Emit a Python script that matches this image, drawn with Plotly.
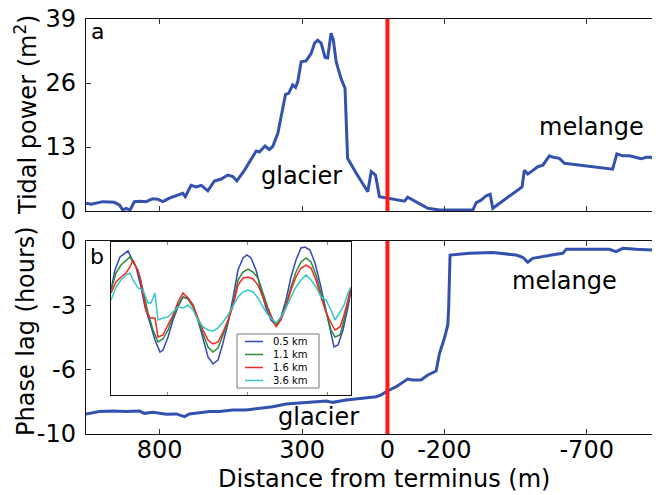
import plotly.graph_objects as go

# ---------------- data ----------------
# Panel a: tidal power along the profile (distance from terminus, m)
power_x = [1059, 1041, 1000, 959, 941, 930, 918, 904, 889, 871,
           848, 824, 807, 789, 766, 742, 719, 710, 690, 672,
           654, 631, 608, 584, 561, 543, 529, 502, 479, 461,
           450, 430, 415, 403, 385, 373, 358, 347, 333, 323,
           315, 303, 286, 268, 256, 245, 233, 219, 210, 198,
           190, 180, 163, 149, 140, 110, 69, 57, 42, 28,
           17, -42, -60, -71, -89, -142, -183, -300, -312, -329,
           -347, -361, -370, -473, -481, -493, -510, -528, -546, -569,
           -583, -604, -622, -791, -806, -827, -850, -868, -891, -909,
           -926, -944]
power_y = [1.56, 1.36, 1.9, 1.76, 1.2, 0.2, 0.55, 0.2, 1.9, 2.0,
           1.9, 2.5, 2.4, 1.9, 2.6, 3.1, 3.6, 2.9, 5.2, 4.9,
           5.2, 4.1, 6.1, 6.5, 7.3, 7.0, 6.1, 8.3, 10.4, 12.2,
           12.0, 13.2, 12.5, 13.1, 15.8, 19.2, 23.7, 23.9, 25.6, 25.1,
           26.3, 30.3, 30.5, 32.0, 34.1, 34.7, 34.1, 31.2, 31.1, 36.1,
           34.7, 30.3, 26.9, 24.9, 10.7, 7.7, 3.9, 8.0, 7.3, 2.9,
           2.8, 2.2, 2.0, 2.8, 2.2, 0.55, 0.2, 0.2, 1.7, 2.2,
           3.1, 3.4, 0.55, 4.9, 8.3, 7.5, 8.2, 9.0, 9.3, 11.2,
           10.9, 10.7, 9.7, 8.5, 11.6, 11.2, 11.2, 10.9, 10.6, 10.9,
           10.9, 10.5]

# Panel b: phase lag (hours)
lag_x = [1059, 1012, 965, 918, 871, 854, 824, 777, 742, 713,
         696, 660, 625, 590, 543, 496, 450, 403, 356, 309,
         262, 215, 192, 145, 98, 63, 40, 22, 5, -31,
         -71, -89, -118, -142, -159, -171, -183, -200, -212, -215,
         -220, -288, -370, -452, -475, -493, -510, -540, -569, -593,
         -616, -628, -698, -780, -803, -827, -874, -944]
lag_y = [-8.96, -8.84, -8.81, -8.84, -8.81, -8.93, -8.88, -8.98, -8.96, -9.10,
         -8.96, -8.90, -8.84, -8.84, -8.76, -8.76, -8.67, -8.59, -8.45, -8.38,
         -8.34, -8.29, -8.36, -8.24, -8.15, -8.12, -8.07, -7.98, -7.81, -7.55,
         -7.15, -7.20, -7.20, -6.94, -6.82, -6.74, -5.82, -5.04, -4.35, -3.49,
         -0.73, -0.64, -0.59, -0.73, -0.84, -1.10, -0.90, -0.81, -0.73, -0.69,
         -0.64, -0.43, -0.43, -0.43, -0.55, -0.38, -0.43, -0.47]

# Inset: tidal signals at four distances (arbitrary time / level units)
t_05 = [0, 4, 9, 14, 17, 20, 25, 30, 34, 39, 44, 49, 52, 57, 62, 67, 72, 77, 82, 87,
        92, 97, 102, 107, 112, 117, 122, 127, 132, 136, 140, 145, 150, 155, 160, 165,
        170, 175, 180, 185, 190, 194, 199, 204, 209, 214, 219, 223, 227, 232, 237, 240]
h_05 = [105, 125, 138, 142, 144, 138, 128, 108, 88, 72, 55, 43, 45, 58, 75, 88, 98, 97, 90, 75,
        55, 38, 31, 35, 52, 72, 97, 125, 137, 140, 137, 125, 105, 87, 75, 70,
        78, 95, 118, 135, 147, 148, 145, 132, 112, 88, 65, 48, 50, 65, 88, 105]
t_11 = [0, 5, 10, 15, 19, 22, 27, 32, 37, 42, 47, 52, 57, 62, 67, 72, 77, 82, 87, 92,
        97, 102, 107, 112, 117, 122, 127, 132, 137, 142, 147, 152, 157, 162, 165, 170,
        175, 180, 185, 190, 195, 200, 205, 210, 215, 220, 224, 229, 233, 237, 240]
h_11 = [105, 122, 130, 135, 138, 133, 125, 105, 82, 65, 53, 56, 65, 78, 90, 98, 96, 88, 75, 60,
        48, 43, 47, 60, 73, 91, 115, 123, 126, 123, 117, 102, 87, 75, 70, 77,
        90, 108, 123, 133, 137, 133, 120, 102, 82, 65, 58, 60, 75, 92, 107]
t_16 = [0, 5, 10, 15, 19, 22, 25, 29, 32, 35, 39, 44, 47, 52, 57, 62, 67, 72, 77, 82,
        87, 92, 97, 102, 107, 112, 117, 122, 127, 132, 137, 142, 147, 152, 157, 162,
        165, 170, 175, 180, 185, 190, 195, 200, 205, 210, 215, 220, 224, 229, 233, 237, 240]
h_16 = [102, 113, 118, 122, 128, 135, 128, 118, 102, 85, 77, 77, 58, 60, 70, 80, 93, 102, 97, 90,
        77, 65, 55, 51, 53, 63, 75, 89, 110, 117, 118, 116, 110, 98, 85, 75,
        68, 75, 88, 105, 118, 127, 130, 127, 115, 98, 83, 72, 65, 68, 80, 95, 108]
t_36 = [0, 5, 10, 15, 19, 22, 27, 32, 37, 40, 44, 47, 52, 57, 62, 67, 72, 77, 82, 87,
        92, 97, 102, 107, 112, 117, 122, 127, 132, 137, 142, 147, 152, 157, 162, 165,
        170, 175, 180, 185, 190, 195, 200, 205, 210, 215, 220, 224, 229, 233, 237, 240]
h_36 = [95, 108, 115, 120, 122, 115, 107, 105, 92, 92, 102, 75, 77, 78, 83, 88, 87, 90, 85, 75,
        68, 65, 64, 67, 73, 80, 89, 98, 103, 105, 103, 97, 88, 80, 75, 72,
        78, 87, 98, 108, 115, 120, 115, 108, 98, 95, 85, 75, 83, 90, 102, 108]

inset_names = ["0.5 km", "1.1 km", "1.6 km", "3.6 km"]
inset_t = [t_05, t_11, t_16, t_36]
inset_h = [h_05, h_11, h_16, h_36]

x_tickvals = [800, 300, 0, -200, -700]
power_ticks = [0, 13, 26, 39]
lag_tickvals = [0, -10 / 3, -20 / 3, -10]
lag_ticktext = ["0", "-3", "-6", "-10"]

# ---------------- styling ----------------
FONT = "DejaVu Sans"
FS = 24
MAIN_BLUE = "#3352ae"
inset_colors = ["#3448b4", "#2c8a3c", "#f02a22", "#36c6c6"]

# the page body has an 8px margin, so the figure is drawn 8px right/down
OFF = 8
W, H = 660 - OFF, 495 - OFF
# plot-area edges, in page pixels
P_LEFT, P_RIGHT, P_TOP, P_BOT = 86, 657, 19, 434
L, R, T, B = P_LEFT - OFF, W - (P_RIGHT - OFF), P_TOP - OFF, H - (P_BOT - OFF)
pw, ph = W - L - R, H - T - B


def ydom(top_px, bot_px):
    return [(P_BOT - bot_px) / ph, (P_BOT - top_px) / ph]


def xdom(l_px, r_px):
    return [(l_px - P_LEFT) / pw, (r_px - P_LEFT) / pw]


def px_to_paper(xp, yp):
    return (xp - P_LEFT) / pw, (P_BOT - yp) / ph


fig = go.Figure()

fig.add_trace(go.Scatter(x=power_x, y=power_y, xaxis="x2", yaxis="y2", mode="lines",
                         line=dict(color=MAIN_BLUE, width=3), name="tidal power"))
fig.add_trace(go.Scatter(x=lag_x, y=lag_y, xaxis="x", yaxis="y", mode="lines",
                         line=dict(color=MAIN_BLUE, width=3), name="phase lag"))
for name, tt, hh, col in zip(inset_names, inset_t, inset_h, inset_colors):
    fig.add_trace(go.Scatter(x=tt, y=hh, xaxis="x3", yaxis="y3", mode="lines",
                             line=dict(color=col, width=1.5), name=name))

axis_common = dict(showline=True, linecolor="#111", linewidth=1.3, mirror="ticks",
                   ticks="inside", ticklen=5, tickwidth=1, tickcolor="#333",
                   showgrid=False, zeroline=False, automargin=False,
                   ticklabeloverflow="allow",
                   tickfont=dict(family=FONT, size=FS, color="black"))

fig.update_layout(
    width=W, height=H,
    margin=dict(l=L, r=R, t=T, b=B, pad=0, autoexpand=False),
    paper_bgcolor="white", plot_bgcolor="white",
    showlegend=False,
    font=dict(family=FONT, size=FS, color="black"),
    xaxis=dict(axis_common, domain=[0, 1], anchor="y", range=[1059, -947],
               tickvals=x_tickvals, ticktext=[str(v) for v in x_tickvals],
               ticklabelstandoff=-6),
    xaxis2=dict(axis_common, domain=[0, 1], anchor="y2", matches="x",
                tickvals=x_tickvals, showticklabels=False),
    yaxis=dict(axis_common, domain=ydom(241, 434), anchor="x", range=[-10, 0],
               tickvals=lag_tickvals, ticktext=lag_ticktext, ticklabelstandoff=4),
    yaxis2=dict(axis_common, domain=ydom(19, 211), anchor="x2", range=[0, 39],
                tickvals=power_ticks, ticktext=[str(v) for v in power_ticks],
                ticklabelstandoff=4),
    xaxis3=dict(domain=xdom(111, 351), anchor="y3", range=[0, 240], showline=True,
                linecolor="#111", linewidth=1.2, mirror="ticks", ticks="inside", ticklen=3,
                tickcolor="#888", tickvals=[56, 136, 216], showticklabels=False,
                showgrid=False, zeroline=False, automargin=False),
    yaxis3=dict(domain=ydom(242, 395), anchor="x3", range=[0, 153], showline=True,
                linecolor="#111", linewidth=1.2, mirror=True, ticks="",
                showticklabels=False, showgrid=False, zeroline=False, automargin=False),
)

# terminus (red vertical line) in both panels
for xr, yr in (("x", "y domain"), ("x2", "y2 domain")):
    fig.add_shape(type="line", xref=xr, yref=yr, x0=0, x1=0, y0=0, y1=1,
                  line=dict(color="#ff1a1a", width=4), layer="above")

# inset legend (compact, matplotlib-like): one multi-line text + line samples
LEG_FS = 10
leg_gap = LEG_FS * 1.3           # plotly line spacing, px == inset units
leg_mid = 34                     # centre of the legend block, inset units
fig.add_shape(type="rect", xref="x3", yref="y3", x0=126, x1=208,
              y0=leg_mid - 2 * leg_gap - 1, y1=leg_mid + 2 * leg_gap + 1,
              line=dict(color="#777", width=1), fillcolor="white", layer="above")
for i, col in enumerate(inset_colors):
    hy = leg_mid + (1.5 - i) * leg_gap
    fig.add_shape(type="line", xref="x3", yref="y3", x0=134, x1=152, y0=hy, y1=hy,
                  line=dict(color=col, width=1.5), layer="above")
fig.add_annotation(xref="x3", yref="y3", x=160, y=leg_mid, text="<br>".join(inset_names),
                   showarrow=False, xanchor="left", yanchor="middle", align="left",
                   font=dict(family=FONT, size=LEG_FS, color="black"))

# panel letters
for txt, (xp, yp) in (("a", (97, 31)), ("b", (96.5, 257))):
    ax, ay = px_to_paper(xp, yp)
    fig.add_annotation(xref="paper", yref="paper", x=ax, y=ay, text=txt, showarrow=False,
                       xanchor="center", yanchor="middle", font=dict(family=FONT, size=22))

# region labels
fig.add_annotation(xref="x2", yref="y2", x=302, y=7.1, text="glacier", showarrow=False,
                   font=dict(family=FONT, size=FS))
fig.add_annotation(xref="x2", yref="y2", x=-717, y=17.1, text="melange", showarrow=False,
                   font=dict(family=FONT, size=FS))
fig.add_annotation(xref="x", yref="y", x=-622, y=-2.07, text="melange", showarrow=False,
                   font=dict(family=FONT, size=FS))
fig.add_annotation(xref="x", yref="y", x=242, y=-9.13, text="glacier", showarrow=False,
                   font=dict(family=FONT, size=FS))

# axis titles
ax, ay = px_to_paper(26, 115)
fig.add_annotation(xref="paper", yref="paper", x=ax, y=ay, text="Tidal power (m<sup>2</sup>)",
                   textangle=-90, showarrow=False, xanchor="center", yanchor="middle",
                   font=dict(family=FONT, size=FS))
ax, ay = px_to_paper(26, 331)
fig.add_annotation(xref="paper", yref="paper", x=ax, y=ay, text="Phase lag (hours)",
                   textangle=-90, showarrow=False, xanchor="center", yanchor="middle",
                   font=dict(family=FONT, size=FS))
ax, ay = px_to_paper(384, 479)
fig.add_annotation(xref="paper", yref="paper", x=ax, y=ay, text="Distance from terminus (m)",
                   showarrow=False, xanchor="center", yanchor="middle",
                   font=dict(family=FONT, size=FS))

fig.write_html("out.html")
